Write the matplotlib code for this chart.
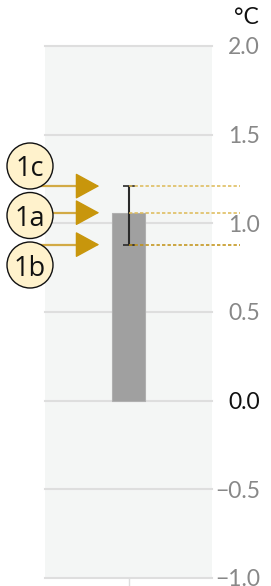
import matplotlib
matplotlib.use("Agg")
import matplotlib.pyplot as plt
from matplotlib.patches import Circle

# ---- data ----
categories = [""]
values = [1.06]
err_low = [0.88]
err_high = [1.21]
marker_labels = ["1c", "1a", "1b"]
marker_values = [1.21, 1.06, 0.88]
yticks = [-1.0, -0.5, 0.0, 0.5, 1.0, 1.5, 2.0]
ytick_labels = ["\u22121.0", "\u22120.5", "0.0", "0.5", "1.0", "1.5", "2.0"]
unit = "\u00b0C"

plt.rcParams['font.family'] = ['Lato', 'DejaVu Sans']

W, H = 271, 586
fig = plt.figure(figsize=(W / 100, H / 100), dpi=100)
ax = fig.add_axes([45 / W, 8 / H, 167 / W, 532 / H])
ax.set_facecolor('#F4F6F5')
ax.set_xlim(-0.5, 0.5)
ax.set_ylim(-1.0, 2.0)
for s in ax.spines.values():
    s.set_visible(False)

# grid
for t in yticks:
    ax.axhline(t, color='#DEDEDE', lw=1.5, zorder=1, clip_on=False)

# bar
ax.bar([0], values, width=0.195, color='#A0A0A0', edgecolor='#B0B0B0', lw=0.8, zorder=2)
ax.errorbar([0], values,
            yerr=[[values[0] - err_low[0]], [err_high[0] - values[0]]],
            fmt='none', ecolor='#2A2A2A', elinewidth=1.5, capsize=4, capthick=1.2, zorder=3)

# dotted reference lines
line_cols = ['#DDB955', '#DDB955', '#C09010']
for v, c in zip(marker_values, line_cols):
    ax.plot([0, 0.67], [v, v], color=c, lw=1.1, ls=(0, (2.2, 1.4)), clip_on=False, zorder=4)

# arrows: lighter shaft + gold head
arrow_col = '#C8960C'
for v in marker_values:
    ax.plot([-0.6, -0.25], [v, v], color='#D2AA45', lw=1.6, clip_on=False, zorder=5,
            solid_capstyle='butt')
    ax.annotate('', xy=(-0.175, v), xytext=(-0.27, v), xycoords='data',
                arrowprops=dict(arrowstyle='-|>,head_length=1.1,head_width=0.6',
                                color=arrow_col, lw=1.0, shrinkA=0, shrinkB=0,
                                mutation_scale=14),
                annotation_clip=False, zorder=5)

ax.set_xticks([0])
ax.set_xticklabels(categories)
ax.tick_params(axis='x', length=6, width=1, color='#DDDDDD', direction='out')

# y ticks on the right
ax.yaxis.tick_right()
ax.set_yticks(yticks)
ax.set_yticklabels(ytick_labels)
ax.tick_params(axis='y', length=0, pad=34.5, labelsize=16.5, labelcolor='#888888')
for lab in ax.get_yticklabels():
    lab.set_horizontalalignment('right')
    lab.set_verticalalignment('center_baseline')
    if lab.get_text() == "0.0":
        lab.set_color('#111111')

# unit
fig.text(259 / W, 1 - 18 / H, unit, ha='right', va='center', fontsize=16.5, color='#111111')

# circles (figure pixel coords)
circle_y = [166, 215.5, 265]
for lab, cy in zip(marker_labels, circle_y):
    cx = 30
    yy = H - cy
    circ = Circle((cx, yy), 23, transform=None, facecolor='#FFF2CC',
                  edgecolor='#111111', lw=1.0, zorder=10)
    fig.patches.append(circ)
    fig.text(cx / W, yy / H, lab, ha='center', va='center_baseline', fontsize=19.5,
             color='#111111', zorder=11, family=['Open Sans', 'DejaVu Sans'])

fig.savefig('out.png', dpi=100)
